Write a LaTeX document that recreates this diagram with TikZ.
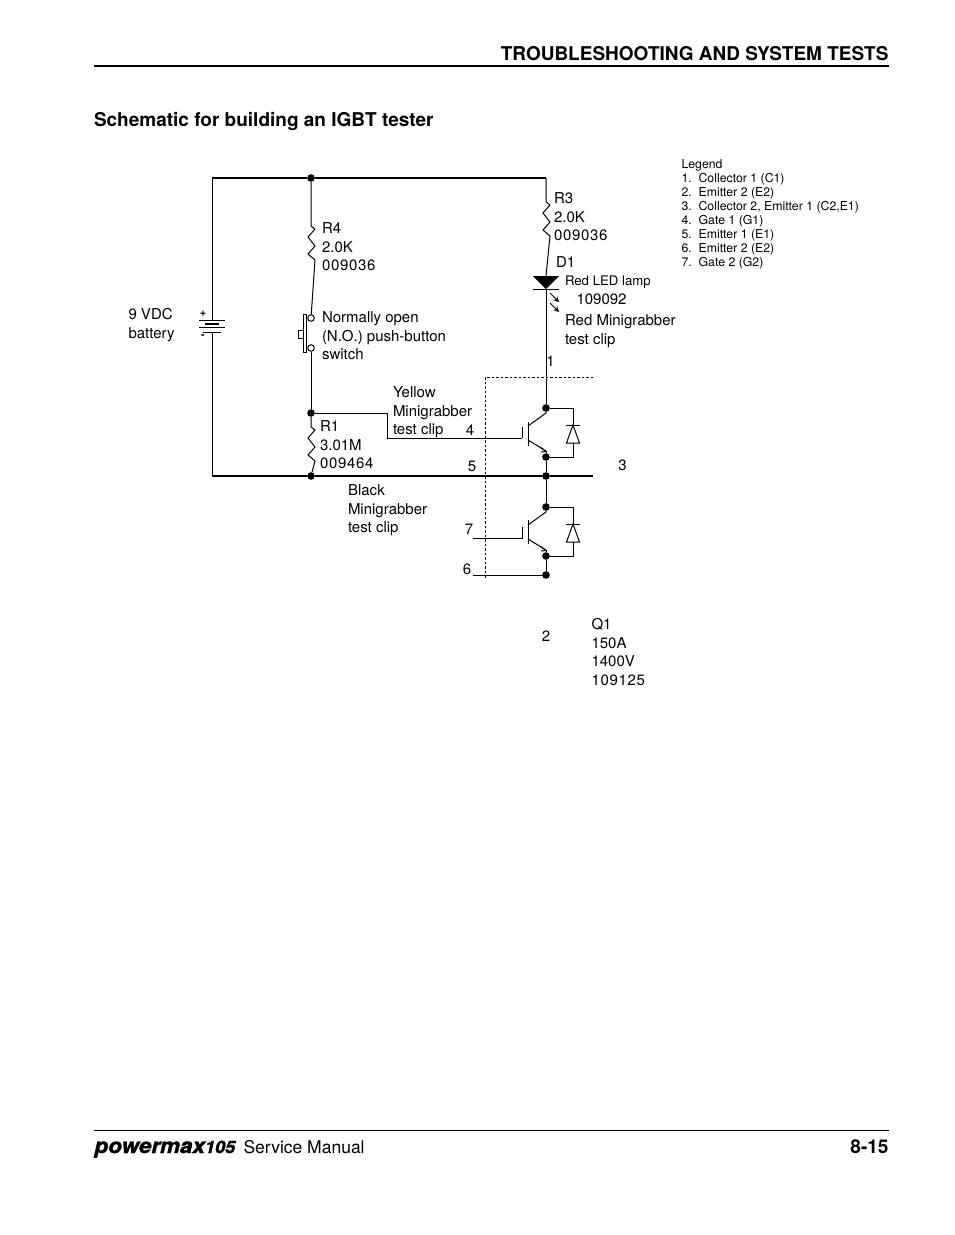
\documentclass[tikz,border=0pt]{standalone}
\usepackage{fontspec}
\setmainfont{TeX Gyre Heros}
\newfontfamily\logofont[FakeBold=1.6,FakeStretch=1.07]{TeX Gyre Heros}
\newfontfamily\codefont[LetterSpace=4.5]{TeX Gyre Heros}
\usetikzlibrary{arrows.meta}
\newcommand{\zigzag}{-- ++(4,3) -- ++(-7,8) -- ++(7,9) -- ++(-7,8) -- ++(7,6)}
\begin{document}
\begin{tikzpicture}[x=1pt,y=-1pt,line width=1pt]
    \tikzset{%
      dot/.style={circle, draw, fill=black, inner sep=0pt, minimum width=6.5pt},
      hole/.style={circle, draw, fill=white, inner sep=0pt, minimum width=6.5pt},
      txt/.style={anchor=north west, inner sep=0pt, align=left,
        font=\fontsize{15}{18.6}\selectfont},
      small/.style={anchor=north west, inner sep=0pt, align=left,
        font=\fontsize{12.3}{14}\selectfont},
      num/.style={anchor=center, inner sep=0pt, font=\fontsize{15}{18}\selectfont},
      heavy/.style={line width=2pt},
      clip line/.style={dash pattern=on 2.5pt off 2pt, line width=0.7pt},
      light/.style={-{Stealth[length=5.5pt,width=5.5pt]}, line width=1pt},
    }
    \useasboundingbox (0,0) rectangle (954,1235);
% page
    \coordinate (HL) at (94,65.5);
    \coordinate (HR) at (889,65.5);
    \draw [heavy] (HL) -- (HR);
    \node[anchor=base east, inner sep=0pt, font=\fontsize{19}{20}\selectfont\bfseries] (head) at (889,60) {TROUBLESHOOTING AND SYSTEM TESTS};
    \node[anchor=base west, inner sep=0pt, font=\fontsize{19}{20}\selectfont\bfseries] (title) at (93.5,126) {Schematic for building an IGBT tester};
    \coordinate (FL) at (94,1130);
    \coordinate (FR) at (889,1130);
    \draw [line width=0.8pt] (FL) -- (FR);
    \node[anchor=base west, inner sep=0pt] (logo) at (94,1153) {\logofont\fontsize{21}{24}\selectfont\bfseries\itshape powermax\fontsize{17}{24}\selectfont 105};
    \node[anchor=base west, inner sep=0pt, font=\fontsize{17.5}{20}\selectfont] (manual) at (243,1153) {Service Manual};
    \node[anchor=base east, inner sep=0pt, font=\fontsize{19}{20}\selectfont\bfseries] (page) at (889,1153) {8-15};
% supply rails
    \coordinate (TL) at (212,178);
    \coordinate (BL) at (212,476);
    \coordinate (BR) at (593,476);
    \coordinate (BatT) at (212,320);
    \coordinate (BatB) at (212,332);
    \node[dot] (T4) at (311,178) {};
    \node[dot] (B1) at (311,476) {};
    \node[dot] (EM) at (546,476) {};
    \draw (BatT) -- (TL);
    \draw [heavy] (TL) -- (T4);
    \draw [heavy] (T4) -- (546,178) coordinate (T3);
    \draw (BatB) -- (212,476);
    \draw [heavy] (BL) -- (B1) -- (EM) -- (BR);
% battery
    \draw (199,320) -- (225,320);
    \draw [line width=2pt] (205,323.5) -- (219,323.5);
    \draw (199,327.5) -- (225,327.5);
    \draw (203,332) -- (221,332);
    \node[anchor=center, inner sep=0pt, font=\fontsize{11}{12}\selectfont\bfseries] (plus) at (203,313.5) {+};
    \node[anchor=center, inner sep=0pt, font=\fontsize{11}{12}\selectfont\bfseries] (minus) at (203,337) {-};
% R4 and switch
    \node[hole] (S1) at (311,318) {};
    \node[hole] (S2) at (311,348) {};
    \node[dot] (J1) at (311,413) {};
    \draw (T4) -- (311,226) \zigzag -- (S1);
    \draw (S2) -- (J1);
    \draw (303,314) rectangle (306,352);
    \draw (303,330) -- (298,330) -- (298,338) -- (303,338);
% R1
    \draw (J1) -- (311,427) \zigzag -- (B1);
% gate 1 wire
    \coordinate (G1) at (522,438);
    \draw (J1) -- (387,413) -- (387,438) -- (G1);
% R3, LED
    \coordinate (LEDa) at (546,276);
    \coordinate (LEDk) at (546,289);
    \draw (T3) -- (546,202) \zigzag -- (LEDa);
    \fill (533,276) -- (559,276) -- (LEDk) -- cycle;
    \draw (533,289) -- (559,289);
    \draw [light] (550,293) -- (559,302);
    \draw [light] (550,303) -- (559,312);
% top IGBT
    \node[dot] (C1) at (546,408) {};
    \node[dot] (E1) at (546,457) {};
    \draw (LEDk) -- (C1);
    \draw (C1) -- (546,413) -- (528,426);
    \draw (E1) -- (546,452);
    \draw (528,440) -- (546,451);
    \draw (540,447) -- (546,451.5) -- (541,452);
    \draw (G1) -- (522,427);
    \draw (528,422) -- (528,446);
    \draw (E1) -- (EM);
    \draw (C1) -- (573,408) -- (573,425);
    \draw (566,425) -- (580,425);
    \draw (573,425) -- (566.5,443) -- (579.5,443) -- cycle;
    \draw (573,443) -- (573,457) -- (E1);
% bottom IGBT
    \node[dot] (C2) at (546,507) {};
    \node[dot] (E2) at (546,556) {};
    \node[dot] (E3) at (546,575) {};
    \coordinate (G2) at (522,538);
    \coordinate (L7) at (473,538);
    \coordinate (L6) at (473,575);
    \draw (EM) -- (C2);
    \draw (C2) -- (546,512) -- (528,525);
    \draw (E2) -- (546,551);
    \draw (528,539) -- (546,550);
    \draw (540,546) -- (546,550.5) -- (541,551);
    \draw (L7) -- (G2) -- (522,527);
    \draw (528,520) -- (528,544);
    \draw (C2) -- (573,507) -- (573,524);
    \draw (566,524) -- (580,524);
    \draw (573,524) -- (566.5,542) -- (579.5,542) -- cycle;
    \draw (573,542) -- (573,556) -- (E2);
    \draw (E2) -- (E3) -- (L6);
% Q1 outline
    \coordinate (Qa) at (593,377);
    \coordinate (Qb) at (485,377);
    \coordinate (Qc) at (485,579);
    \draw [clip line] (Qa) -- (Qb) -- (Qc);
% labels
    \node[txt] (lblR4) at (321.5,222) {R4\\2.0K\\{\codefont 009036}};
    \node[txt] (lblSw) at (321.5,311) {Normally open\\(N.O.) push-button\\switch};
    \node[txt] (lblBat) at (128,308) {9 VDC\\battery};
    \node[txt] (lblR3) at (553.5,192) {R3\\2.0K\\{\codefont 009036}};
    \node[txt] (lblD1) at (555.5,256) {D1};
    \node[txt, font=\fontsize{13.2}{14}\selectfont] (lblLED) at (564.5,275) {Red LED lamp};
    \node[txt] (lblLEDn) at (576,293) {109092};
    \node[txt] (lblRed) at (564.5,314) {Red Minigrabber\\test clip};
    \node[txt] (lblYel) at (392.5,386) {Yellow\\Minigrabber\\test clip};
    \node[txt] (lblR1) at (319.5,420) {R1\\3.01M\\{\codefont 009464}};
    \node[txt] (lblBlk) at (347.5,484) {Black\\Minigrabber\\test clip};
    \node[txt] (lblQ1) at (591,618) {Q1\\150A\\1400V\\{\codefont 109125}};
    \node[num] (n1) at (550.5,361) {1};
    \node[num] (n2) at (546,636) {2};
    \node[num] (n3) at (622.5,465) {3};
    \node[num] (n4) at (470,430) {4};
    \node[num] (n5) at (472,466) {5};
    \node[num] (n6) at (467,569) {6};
    \node[num] (n7) at (469,529) {7};
    \node[small] (legend) at (681,159) {Legend\\1.\ \ Collector 1 (C1)\\2.\ \ Emitter 2 (E2)\\3.\ \ Collector 2, Emitter 1 (C2,E1)\\4.\ \ Gate 1 (G1)\\5.\ \ Emitter 1 (E1)\\6.\ \ Emitter 2 (E2)\\7.\ \ Gate 2 (G2)};
\end{tikzpicture}
\end{document}
